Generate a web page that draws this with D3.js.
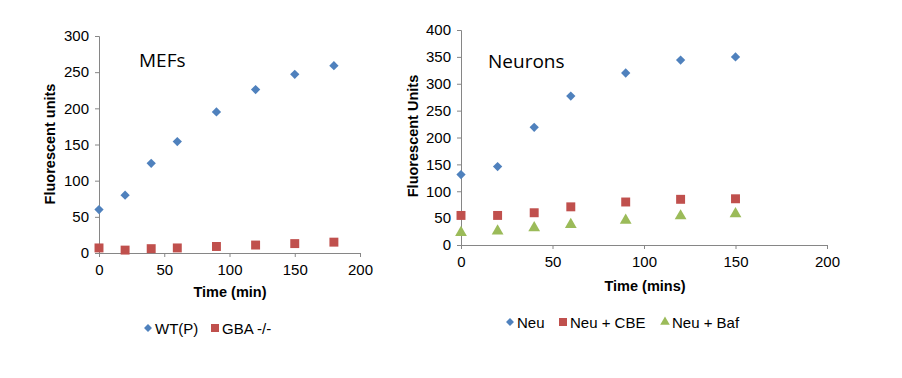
<!DOCTYPE html>
<html><head><meta charset="utf-8">
<script src="https://cdn.jsdelivr.net/npm/d3@7"></script>
<style>body{margin:0;background:#fff}</style>
</head><body>
<svg id="c" width="902" height="378"></svg>
<script>
const mefTimes = [0, 20, 40, 60, 90, 120, 150, 180];
const mefWT = [60, 80, 124, 154, 195, 226, 247, 259];
const mefGBA = [7, 4, 6, 7, 9, 11, 13, 15];
const neuTimes = [0, 20, 40, 60, 90, 120, 150];
const neu = [131, 146, 219, 277, 320, 344, 350];
const neuCBE = [55, 55, 60, 71, 80, 85, 86];
const neuBaf = [23, 26, 32, 38, 46, 54, 58];
const xTicks = [0, 50, 100, 150, 200];
const mefYTicks = [0, 50, 100, 150, 200, 250, 300];
const neuYTicks = [0, 50, 100, 150, 200, 250, 300, 350, 400];

const C = {blue:"#4F81BD", red:"#C0504D", green:"#9BBB59", axis:"#868686"};
const svg = d3.select("#c");
const sym = {diamond: d3.symbol().type(d3.symbolDiamond2).size(55),
             square: d3.symbol().type(d3.symbolSquare).size(80),
             triangle: d3.symbol().type(d3.symbolTriangle).size(60)};

function panel(cfg){
  const x = d3.scaleLinear().domain([0,200]).range([cfg.x0, cfg.x1]);
  const y = d3.scaleLinear().domain([0,cfg.ymax]).range([cfg.y0, cfg.y1]);
  const g = svg.append("g");
  const ya = g.append("g").attr("transform",`translate(${cfg.x0},0)`)
    .call(d3.axisLeft(y).tickValues(cfg.yTicks).tickSize(4).tickPadding(6).tickFormat(d3.format("d")));
  const xa = g.append("g").attr("transform",`translate(0,${cfg.y0})`)
    .call(d3.axisBottom(x).tickValues(xTicks).tickSize(4).tickPadding(7).tickFormat(d3.format("d")));
  [ya,xa].forEach(a=>{
    a.select(".domain").attr("stroke",C.axis);
    a.selectAll(".tick line").attr("stroke",C.axis);
    a.selectAll("text").attr("fill","#000").style("font-family","Liberation Sans, Arial").style("font-size","15px");
  });
  g.append("text").attr("x",cfg.xt).attr("y",cfg.xtY).attr("text-anchor","middle")
    .style("font-family","Liberation Sans, Arial").style("font-size","14.5px").style("font-weight","bold").text(cfg.xTitle);
  g.append("text").attr("transform",`translate(${cfg.ytX},${cfg.ytY}) rotate(-90)`).attr("text-anchor","middle")
    .style("font-family","Liberation Sans, Arial").style("font-size","14.5px").style("font-weight","bold").text(cfg.yTitle);
  g.append("text").attr("x",cfg.tX).attr("y",cfg.tY)
    .style("font-family","Open Sans, Lato, sans-serif").style("font-size","19px").text(cfg.title);
  cfg.series.forEach(s=>{
    g.append("g").selectAll("path").data(s.values).join("path")
      .attr("d",sym[s.shape]).attr("fill",s.color)
      .attr("transform",(d,i)=>`translate(${x(cfg.times[i])},${y(d)})`);
  });
  cfg.series.forEach(s=>{
    g.append("path").attr("d",d3.symbol().type(s.shape==="diamond"?d3.symbolDiamond2:s.shape==="square"?d3.symbolSquare:d3.symbolTriangle).size(s.shape==="square"?64:40))
      .attr("fill",s.color).attr("transform",`translate(${s.lx},${cfg.ly})`);
    g.append("text").attr("x",s.lx+7).attr("y",cfg.ly+5.5)
      .style("font-family","Liberation Sans, Arial").style("font-size","15px").text(s.name);
  });
}

panel({x0:99,x1:360,y0:253,y1:36,ymax:300,yTicks:mefYTicks,times:mefTimes,
  xTitle:"Time (min)",xt:230,xtY:297,yTitle:"Fluorescent units",ytX:55,ytY:144,
  title:"MEFs",tX:139,tY:67,ly:328,
  series:[{name:"WT(P)",values:mefWT,color:C.blue,shape:"diamond",lx:148},
          {name:"GBA -/-",values:mefGBA,color:C.red,shape:"square",lx:215}]});

panel({x0:461,x1:827,y0:245,y1:30,ymax:400,yTicks:neuYTicks,times:neuTimes,
  xTitle:"Time (mins)",xt:645,xtY:291,yTitle:"Fluorescent Units",ytX:418,ytY:136,
  title:"Neurons",tX:488,tY:68,ly:322,
  series:[{name:"Neu",values:neu,color:C.blue,shape:"diamond",lx:510},
          {name:"Neu + CBE",values:neuCBE,color:C.red,shape:"square",lx:563},
          {name:"Neu + Baf",values:neuBaf,color:C.green,shape:"triangle",lx:665}]});
</script>
</body></html>
